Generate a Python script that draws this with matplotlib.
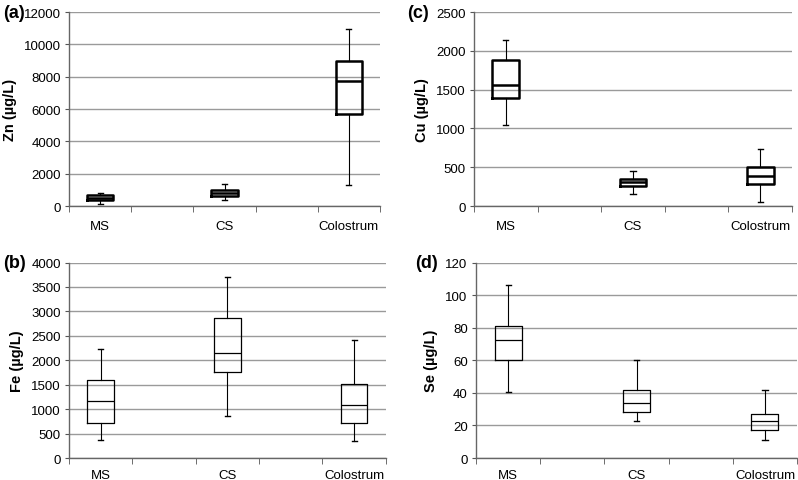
import matplotlib.pyplot as plt

plt.rcParams['font.family'] = ['Liberation Sans', 'DejaVu Sans']

groups = ['MS', 'CS', 'Colostrum']
positions = [0.5, 2.5, 4.5]

# whisker low, q1, median, q3, whisker high
zn = [[100, 390, 500, 660, 800],
      [350, 620, 800, 970, 1360],
      [1300, 5710, 7710, 8970, 10950]]
cu = [[1040, 1387, 1554, 1879, 2145],
      [154, 253, 312, 351, 450],
      [56, 287, 390, 501, 741]]
fe = [[370, 710, 1165, 1595, 2225],
      [850, 1750, 2146, 2855, 3714],
      [340, 710, 1090, 1505, 2420]]
se = [[40.3, 60.3, 72.3, 80.8, 106.2],
      [22.5, 28.5, 34.0, 42.0, 60.1],
      [11.2, 17.2, 22.8, 27.3, 41.9]]

panels = [
    ('(a)', 'Zn (µg/L)', zn, [0, 12000], 2000, 1.8, [0.0865, 0.5696, 0.3897, 0.4033], -0.212, 10),
    ('(c)', 'Cu (µg/L)', cu, [0, 2500], 500, 1.8, [0.594, 0.5696, 0.3985, 0.4033], -0.21, 10),
    ('(b)', 'Fe (µg/L)', fe, [0, 4000], 500, 0.9, [0.0865, 0.0457, 0.397, 0.4064], -0.208, 8),
    ('(d)', 'Se (µg/L)', se, [0, 120], 20, 0.9, [0.5965, 0.0457, 0.4023, 0.4064], -0.19, 8),
]

fig = plt.figure(figsize=(7.98, 4.81), dpi=100)

for tag, ylabel, data, ylim, step, lw, rect, tagx, xpad in panels:
    ax = fig.add_axes(rect)
    stats = []
    for name, v in zip(groups, data):
        stats.append({'label': name, 'whislo': v[0], 'q1': v[1], 'med': v[2],
                      'q3': v[3], 'whishi': v[4], 'fliers': []})
    ax.bxp(stats, positions=positions, widths=0.42, showfliers=False,
           capwidths=0.08,
           boxprops=dict(color='black', linewidth=lw),
           medianprops=dict(color='black', linewidth=lw),
           whiskerprops=dict(color='black', linewidth=0.8),
           capprops=dict(color='black', linewidth=1.0),
           zorder=3)
    ax.set_xlim(0, 5)
    ax.set_ylim(ylim)
    ax.set_yticks(range(ylim[0], ylim[1] + 1, step))
    ax.yaxis.grid(True, color='#9a9a9a', linewidth=1.0)
    ax.set_axisbelow(True)
    ax.set_xticks(positions, groups)
    ax.set_xticks(range(6), minor=True)
    ax.tick_params(axis='x', which='major', length=0, pad=xpad, labelsize=9.5)
    ax.tick_params(axis='x', which='minor', length=4, direction='out', color='#555555')
    ax.tick_params(axis='y', length=3, color='#555555', labelsize=9.5, pad=3)
    for s in ['top', 'right']:
        ax.spines[s].set_visible(False)
    for s in ['left', 'bottom']:
        ax.spines[s].set_color('#666666')
        ax.spines[s].set_linewidth(1.0)
    ax.set_ylabel(ylabel, fontsize=10.5, fontweight='bold', labelpad=5)
    ax.text(tagx, 1.0, tag, transform=ax.transAxes,
            fontsize=13, fontweight='bold', ha='left', va='center')

fig.savefig('out.png', dpi=100)
